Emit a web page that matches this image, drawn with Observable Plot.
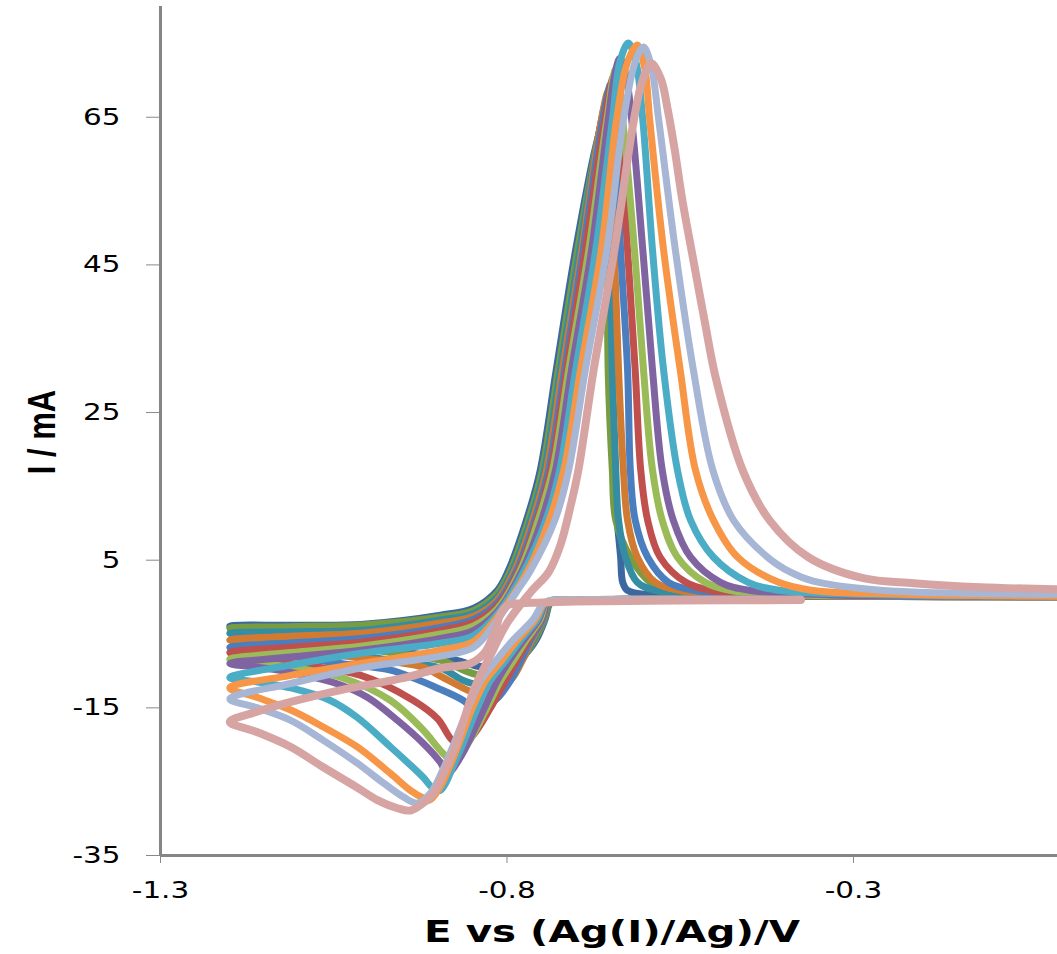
<!DOCTYPE html>
<html>
<head>
<meta charset="utf-8">
<script src="https://cdn.jsdelivr.net/npm/d3@7"></script>
<script src="https://cdn.jsdelivr.net/npm/@observablehq/plot@0.6"></script>
<style>
html, body { margin: 0; padding: 0; background: #fff; }
#chart svg { color: #898989; }
#chart svg text { fill: #000; }
</style>
</head>
<body>
<div id="chart"></div>
<script>
// Tick values and axis titles
const xTicks = [-1.3, -0.8, -0.3];
const yTicks = [-35, -15, 5, 25, 45, 65];
const xTitle = "E vs (Ag(I)/Ag)/V";
const yTitle = "I / mA";

// Series (scan order: forward sweep then reverse sweep), values [E / V, I / mA]
const seriesNames = ["s1","s2","s3","s4","s5","s6","s7","s8","s9","s10","s11","s12"];
const seriesColors = ["#3B68A0","#789C42","#358DA3","#D17B32","#4B7EBE","#C0504D","#9BBB59","#8064A2","#4BACC6","#F79646","#A6B6D4","#D6A5A3"];

const s1 = [
[-0.376,-0.3],[-0.55,-0.3],[-0.70,-0.35],[-0.728,-0.45],[-0.738,-0.9],[-0.745,-3.0],[-0.758,-5.8],[-0.775,-7.8],[-0.80,-8.9],[-0.825,-9.3],[-0.841,-9.4],[-0.857,-9.0],[-0.871,-8.6],[-0.968,-7.2],[-1.04,-6.2],[-1.112,-5.2],[-1.16,-4.5],[-1.2,-3.9],
[-1.112,-3.8],[-1.011,-3.7],[-0.896,-2.45],[-0.848,-1.5],[-0.814,0.9],[-0.798,3.6],[-0.772,10.4],[-0.752,17.2],[-0.729,30.75],[-0.701,47.0],[-0.672,61.0],[-0.662,64.0],[-0.657,56.0],[-0.655,47.0],[-0.652,30.75],[-0.646,17.2],[-0.641,10.4],[-0.636,5.4],[-0.633,2.0],[-0.626,0.9],[-0.593,0.3],[-0.376,0.12],[0,0.1]
];
const s2 = [
[-0.376,-0.3],[-0.55,-0.3],[-0.70,-0.35],[-0.729,-0.45],[-0.739,-0.9],[-0.746,-3.0],[-0.760,-5.8],[-0.778,-8.3],[-0.80,-9.8],[-0.822,-10.4],[-0.838,-10.6],[-0.86,-10.0],[-0.896,-8.55],[-0.968,-7.5],[-1.04,-6.5],[-1.112,-5.6],[-1.16,-4.8],[-1.2,-4.2],
[-1.112,-4.0],[-1.011,-3.8],[-0.896,-2.7],[-0.848,-1.8],[-0.814,0.5],[-0.795,3.6],[-0.769,10.4],[-0.749,17.2],[-0.726,30.75],[-0.698,47.0],[-0.669,62.0],[-0.660,65.5],[-0.656,57.0],[-0.655,47.0],[-0.654,30.75],[-0.648,17.2],[-0.643,10.4],[-0.622,5.4],[-0.593,2.0],[-0.564,0.9],[-0.492,0.3],[-0.304,0.1],[0,0.05]
];
const s3 = [
[-0.376,-0.3],[-0.55,-0.3],[-0.70,-0.35],[-0.730,-0.45],[-0.740,-0.9],[-0.747,-3.0],[-0.762,-5.8],[-0.778,-8.5],[-0.795,-10.6],[-0.815,-11.6],[-0.838,-11.9],[-0.863,-11.3],[-0.896,-9.6],[-0.968,-8.55],[-1.04,-7.5],[-1.112,-6.25],[-1.16,-5.5],[-1.2,-4.9],
[-1.112,-4.7],[-1.011,-4.5],[-0.896,-3.1],[-0.848,-2.2],[-0.814,0.0],[-0.792,3.6],[-0.766,10.4],[-0.746,17.2],[-0.723,30.75],[-0.695,47.0],[-0.667,63.0],[-0.657,67.0],[-0.652,58.0],[-0.651,47.0],[-0.648,30.75],[-0.643,17.2],[-0.639,10.4],[-0.629,5.4],[-0.612,2.0],[-0.586,0.9],[-0.521,0.3],[-0.304,0.1],[0,0.05]
];
const s4 = [
[-0.376,-0.3],[-0.55,-0.3],[-0.70,-0.35],[-0.731,-0.45],[-0.741,-0.9],[-0.748,-3.0],[-0.764,-5.8],[-0.778,-8.6],[-0.791,-10.8],[-0.812,-12.7],[-0.838,-13.3],[-0.857,-12.6],[-0.896,-10.7],[-0.921,-9.5],[-0.968,-8.7],[-1.04,-7.9],[-1.112,-6.9],[-1.16,-6.3],[-1.2,-5.8],
[-1.112,-5.3],[-1.011,-4.9],[-0.896,-3.5],[-0.848,-2.6],[-0.814,-0.4],[-0.789,3.6],[-0.763,10.4],[-0.743,17.2],[-0.720,30.75],[-0.692,47.0],[-0.665,64.0],[-0.654,68.5],[-0.650,64.0],[-0.645,47.0],[-0.639,30.75],[-0.632,17.2],[-0.626,10.4],[-0.612,5.4],[-0.586,2.0],[-0.550,0.9],[-0.463,0.3],[-0.3,0.1],[0,0.05]
];
const s5 = [
[-0.376,-0.3],[-0.55,-0.3],[-0.70,-0.35],[-0.732,-0.45],[-0.742,-0.9],[-0.749,-3.0],[-0.766,-5.8],[-0.780,-8.6],[-0.795,-11.3],[-0.815,-13.8],[-0.835,-15.0],[-0.847,-15.2],[-0.863,-14.0],[-0.896,-12.5],[-0.968,-9.9],[-1.04,-9.0],[-1.112,-8.0],[-1.16,-7.3],[-1.2,-6.8],
[-1.112,-6.2],[-1.011,-5.6],[-0.896,-4.1],[-0.848,-3.0],[-0.814,-0.8],[-0.786,3.6],[-0.760,10.4],[-0.740,17.2],[-0.717,30.75],[-0.690,47.0],[-0.662,64.6],[-0.650,69.5],[-0.644,64.6],[-0.636,47.0],[-0.626,30.75],[-0.622,17.2],[-0.615,10.4],[-0.597,5.4],[-0.567,2.0],[-0.528,0.9],[-0.434,0.3],[-0.25,0.1],[0,0.05]
];
const s6 = [
[-0.376,-0.3],[-0.55,-0.3],[-0.70,-0.35],[-0.733,-0.45],[-0.743,-0.9],[-0.751,-3.0],[-0.769,-5.8],[-0.785,-8.5],[-0.802,-11.3],[-0.825,-15.2],[-0.848,-18.6],[-0.866,-20.1],[-0.880,-19.3],[-0.900,-16.5],[-0.935,-14.0],[-1.011,-10.6],[-1.112,-9.0],[-1.16,-8.2],[-1.2,-7.5],
[-1.112,-6.8],[-1.011,-6.1],[-0.896,-4.5],[-0.848,-3.4],[-0.814,-1.2],[-0.783,3.6],[-0.757,10.4],[-0.737,17.2],[-0.714,30.75],[-0.687,47.0],[-0.659,64.6],[-0.646,70.5],[-0.638,64.6],[-0.626,47.0],[-0.615,30.75],[-0.607,17.2],[-0.597,10.4],[-0.579,5.4],[-0.542,2.0],[-0.506,0.9],[-0.405,0.3],[-0.2,0.1],[0,0.05]
];
const s7 = [
[-0.376,-0.3],[-0.55,-0.3],[-0.70,-0.35],[-0.734,-0.45],[-0.744,-0.9],[-0.752,-3.0],[-0.772,-5.8],[-0.790,-8.5],[-0.809,-11.3],[-0.832,-15.6],[-0.857,-19.9],[-0.878,-22.1],[-0.892,-21.2],[-0.921,-18.0],[-0.968,-14.0],[-1.04,-10.85],[-1.112,-9.5],[-1.16,-8.9],[-1.2,-8.4],
[-1.112,-7.5],[-1.011,-6.65],[-0.896,-5.0],[-0.848,-3.9],[-0.814,-1.6],[-0.781,3.6],[-0.755,10.4],[-0.734,17.2],[-0.711,30.75],[-0.682,47.0],[-0.656,64.6],[-0.643,71.5],[-0.633,64.6],[-0.616,47.0],[-0.603,30.75],[-0.590,17.2],[-0.576,10.4],[-0.554,5.4],[-0.514,2.0],[-0.477,0.9],[-0.376,0.3],[-0.2,0.1],[0,0.05]
];
const s8 = [
[-0.376,-0.3],[-0.55,-0.3],[-0.70,-0.35],[-0.735,-0.45],[-0.745,-0.9],[-0.754,-3.0],[-0.776,-5.8],[-0.796,-8.5],[-0.814,-11.3],[-0.840,-16.5],[-0.866,-21.5],[-0.886,-23.9],[-0.896,-22.4],[-0.921,-19.8],[-0.958,-16.7],[-1.001,-13.6],[-1.04,-11.9],[-1.112,-10.2],[-1.16,-9.5],[-1.2,-9.0],
[-1.112,-8.1],[-1.011,-7.2],[-0.896,-5.6],[-0.848,-4.5],[-0.814,-2.0],[-0.778,3.6],[-0.750,10.4],[-0.730,17.2],[-0.707,30.75],[-0.678,47.0],[-0.654,64.6],[-0.645,70.5],[-0.637,73.0],[-0.628,70.5],[-0.620,64.6],[-0.604,47.0],[-0.590,30.75],[-0.576,17.2],[-0.560,10.4],[-0.535,5.4],[-0.492,2.0],[-0.449,0.9],[-0.333,0.3],[-0.15,0.1],[0,0.05]
];
const s9 = [
[-0.376,-0.3],[-0.55,-0.3],[-0.70,-0.35],[-0.736,-0.45],[-0.746,-0.9],[-0.756,-3.0],[-0.780,-5.8],[-0.801,-8.5],[-0.824,-11.3],[-0.845,-15.5],[-0.862,-19.5],[-0.878,-23.0],[-0.889,-25.3],[-0.897,-26.2],[-0.908,-25.8],[-0.921,-24.4],[-0.968,-20.3],[-1.016,-16.3],[-1.055,-14.0],[-1.112,-12.3],[-1.16,-11.5],[-1.2,-10.9],
[-1.112,-9.2],[-1.011,-7.6],[-0.896,-6.25],[-0.848,-5.2],[-0.814,-2.3],[-0.775,3.6],[-0.744,10.4],[-0.724,17.2],[-0.701,30.75],[-0.672,47.0],[-0.648,64.6],[-0.637,72.5],[-0.625,75.05],[-0.614,72.5],[-0.604,64.6],[-0.590,47.0],[-0.574,30.75],[-0.554,17.2],[-0.535,10.4],[-0.502,5.4],[-0.452,2.0],[-0.405,0.9],[-0.29,0.4],[-0.1,0.15],[0,0.1]
];
const s10 = [
[-0.376,-0.3],[-0.55,-0.3],[-0.70,-0.35],[-0.737,-0.45],[-0.747,-0.9],[-0.759,-3.0],[-0.785,-5.8],[-0.807,-8.5],[-0.831,-11.3],[-0.850,-15.0],[-0.866,-19.0],[-0.882,-22.8],[-0.897,-25.8],[-0.912,-27.5],[-0.921,-27.2],[-0.939,-26.2],[-0.968,-23.9],[-1.016,-20.3],[-1.065,-17.6],[-1.112,-15.3],[-1.16,-13.6],[-1.2,-12.3],
[-1.112,-10.6],[-1.011,-9.0],[-0.896,-7.2],[-0.848,-6.0],[-0.814,-2.7],[-0.770,3.6],[-0.739,10.4],[-0.718,17.2],[-0.694,30.75],[-0.664,47.0],[-0.642,64.6],[-0.626,72.5],[-0.612,74.8],[-0.601,71.5],[-0.594,64.6],[-0.574,47.0],[-0.550,30.75],[-0.528,17.2],[-0.502,10.4],[-0.467,5.4],[-0.408,2.0],[-0.359,0.9],[-0.232,0.4],[-0.05,0.15],[0,0.12]
];
const s11 = [
[-0.376,-0.3],[-0.55,-0.3],[-0.70,-0.35],[-0.738,-0.45],[-0.748,-0.9],[-0.762,-3.0],[-0.791,-5.8],[-0.815,-8.5],[-0.838,-11.3],[-0.858,-15.5],[-0.875,-19.5],[-0.893,-23.5],[-0.910,-26.5],[-0.929,-27.9],[-0.949,-27.1],[-0.978,-25.2],[-1.016,-22.5],[-1.065,-19.4],[-1.112,-16.7],[-1.16,-15.0],[-1.2,-13.8],
[-1.112,-11.7],[-1.011,-9.6],[-0.896,-8.0],[-0.848,-6.8],[-0.814,-3.1],[-0.785,0.9],[-0.766,3.6],[-0.731,10.4],[-0.711,17.2],[-0.687,30.75],[-0.656,47.0],[-0.632,64.6],[-0.615,72.5],[-0.603,74.5],[-0.592,72.0],[-0.581,64.6],[-0.557,47.0],[-0.531,30.75],[-0.503,17.2],[-0.473,10.4],[-0.424,5.4],[-0.391,3.37],[-0.358,2.15],[-0.261,0.93],[0,0.39]
];
const s12 = [
[-0.376,-0.4],[-0.55,-0.45],[-0.70,-0.6],[-0.757,-0.75],[-0.781,-0.85],[-0.799,-1.1],[-0.809,-2.2],[-0.817,-4.5],[-0.832,-7.5],[-0.853,-9.0],[-0.896,-9.6],[-0.944,-10.85],[-1.04,-12.6],[-1.112,-14.2],[-1.16,-15.5],[-1.2,-16.9],
[-1.16,-18.3],[-1.112,-20.3],[-1.065,-23.05],[-1.016,-25.8],[-0.987,-27.5],[-0.958,-28.6],[-0.939,-28.9],[-0.921,-27.9],[-0.906,-26.6],[-0.896,-24.8],[-0.874,-20.1],[-0.848,-12.6],[-0.824,-7.9],[-0.799,-3.4],[-0.766,0.66],[-0.740,3.37],[-0.723,7.03],[-0.708,12.45],[-0.697,17.2],[-0.675,30.75],[-0.645,47.0],[-0.617,64.6],[-0.605,69.8],[-0.592,72.3],[-0.578,70.2],[-0.568,66.0],[-0.558,60.6],[-0.547,53.8],[-0.531,45.6],[-0.515,37.5],[-0.498,29.4],[-0.460,17.2],[-0.421,10.4],[-0.365,5.4],[-0.286,2.56],[-0.213,1.88],[-0.117,1.34],[0,1.05]
];

const curves = [s1, s2, s3, s4, s5, s6, s7, s8, s9, s10, s11, s12];

const lineMarks = curves.map((pts, k) => Plot.line(pts, {
  x: d => d[0],
  y: d => d[1],
  stroke: seriesColors[k],
  strokeWidth: k === curves.length - 1 ? 8 : 7,
  strokeLinecap: "round",
  strokeLinejoin: "round",
  curve: "catmull-rom"
}));

const chart = Plot.plot({
  width: 1057,
  height: 954,
  marginLeft: 160,
  marginRight: 0,
  marginTop: 6,
  marginBottom: 99,
  style: {fontFamily: "'DejaVu Sans', Verdana, sans-serif", fontSize: "23px", background: "#fff", overflow: "visible"},
  x: {domain: [-1.3, -0.0056], ticks: xTicks, tickFormat: d => String(d), tickSize: 8, tickPadding: 18, label: null},
  y: {domain: [-35, 80], ticks: yTicks, tickFormat: d => String(d), tickSize: 14, tickPadding: 26, label: null},
  marks: [
    ...lineMarks,
    Plot.ruleX([-1.3], {stroke: "#868686", strokeWidth: 3}),
    Plot.ruleY([-35], {stroke: "#868686", strokeWidth: 3})
  ]
});

document.getElementById("chart").append(chart);
const svg = chart.tagName.toLowerCase() === "svg" ? chart : chart.querySelector("svg");

// widen tick labels horizontally, as in the reference
svg.querySelectorAll("text").forEach(t => {
  const w = t.getComputedTextLength();
  if (w > 0) {
    t.setAttribute("textLength", (w * 1.28).toFixed(1));
    t.setAttribute("lengthAdjust", "spacingAndGlyphs");
  }
});

const ns = "http://www.w3.org/2000/svg";
const xt = document.createElementNS(ns, "text");
xt.textContent = xTitle;
xt.setAttribute("x", 612);
xt.setAttribute("y", 942);
xt.setAttribute("text-anchor", "middle");
xt.setAttribute("font-family", "'DejaVu Sans', Verdana, sans-serif");
xt.setAttribute("font-weight", "bold");
xt.setAttribute("font-size", 31);
xt.setAttribute("textLength", 376);
xt.setAttribute("lengthAdjust", "spacingAndGlyphs");
xt.setAttribute("fill", "#000");
svg.append(xt);

const yt = document.createElementNS(ns, "text");
yt.textContent = yTitle;
yt.setAttribute("transform", "translate(55,432) scale(1.25,1) rotate(-90)");
yt.setAttribute("text-anchor", "middle");
yt.setAttribute("font-family", "'Liberation Sans', Arial, sans-serif");
yt.setAttribute("font-weight", "bold");
yt.setAttribute("font-size", 31);
yt.setAttribute("fill", "#000");
svg.append(yt);
</script>
</body>
</html>
